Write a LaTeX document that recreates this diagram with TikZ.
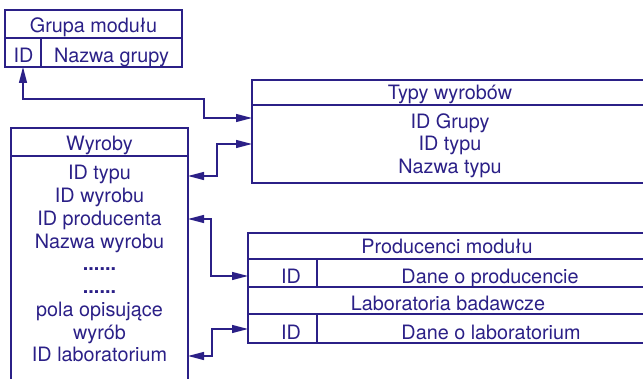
\documentclass[tikz,border=0pt]{standalone}
\usepackage{fontspec}
\setmainfont{TeX Gyre Heros}
\usetikzlibrary{arrows.meta}
\definecolor{ink}{RGB}{43,32,135}
\newcommand{\lbfont}{\fontsize{19.8}{23}\selectfont}
\tikzset{
  boxnode/.style={draw=ink, line width=2pt, inner sep=0pt, outer sep=0pt, anchor=north west, fill=none},
  boxline/.style={draw=ink, line width=2pt},
  lbl/.style={text=ink, font=\lbfont, inner sep=0pt, anchor=base},
  tip/.tip={Triangle[length=16pt,width=8pt]},
  link/.style={draw=ink, line width=1.3pt, tip-tip},
}
\begin{document}
\begin{tikzpicture}[x=1pt,y=-1pt]
\useasboundingbox (0,0) rectangle (643,379);
\clip (0,0) rectangle (643,379);
% Grupa modulu
\node[boxnode, minimum width=177pt, minimum height=57pt] (grupa) at (5,10) {};
\draw[boxline] (grupa.west |- 0,38) -- (grupa.east |- 0,38);
\node[boxnode, minimum width=36pt, minimum height=29pt] (gid) at (5,38) {};
\node[lbl] (gt) at (93.5,32.5) {Grupa modułu};
\node[lbl] (gidt) at (23.5,62.5) {ID};
\node[lbl] (gnt) at (111.5,62.5) {Nazwa grupy};
% Typy wyrobow
\node[boxnode, minimum width=420pt, minimum height=103pt] (typy) at (252,80) {};
\draw[boxline] (typy.west |- 0,105) -- (typy.east |- 0,105);
\node[lbl] (tt) at (450,99.5) {Typy wyrobów};
\node[lbl] (t1) at (450,128.5) {ID Grupy};
\node[lbl] (t2) at (450,151) {ID typu};
\node[lbl] (t3) at (450,173.5) {Nazwa typu};
% Wyroby
\node[boxnode, minimum width=177pt, minimum height=280pt] (wyr) at (11,128) {};
\draw[boxline] (wyr.west |- 0,156) -- (wyr.east |- 0,156);
\node[lbl] (wt) at (99.5,150.5) {Wyroby};
\node[lbl] (w1) at (99.5,180) {ID typu};
\node[lbl] (w2) at (99.5,202.75) {ID wyrobu};
\node[lbl] (w3) at (99.5,225.5) {ID producenta};
\node[lbl] (w4) at (99.5,248.25) {Nazwa wyrobu};
\node[lbl] (w5) at (99.5,271) {\textbf{......}};
\node[lbl] (w6) at (99.5,293.75) {\textbf{......}};
\node[lbl] (w7) at (99.5,316.5) {pola opisujące};
\node[lbl] (w8) at (99.5,339.25) {wyrób};
\node[lbl] (w9) at (99.5,362) {ID laboratorium};
% Producenci / Laboratoria
\node[boxnode, minimum width=424pt, minimum height=110pt] (prod) at (248,233) {};
\draw[boxline] (prod.west |- 0,259) -- (prod.east |- 0,259);
\draw[boxline] (prod.west |- 0,287) -- (prod.east |- 0,287);
\draw[boxline] (prod.west |- 0,314) -- (prod.east |- 0,314);
\node[boxnode, minimum width=69pt, minimum height=28pt] (pid) at (248,259) {};
\node[boxnode, minimum width=69pt, minimum height=29pt] (lid) at (248,314) {};
\node[lbl] (pt) at (447,254) {Producenci modułu};
\node[lbl] (pidt) at (291,283.5) {ID};
\node[lbl] (pdt) at (490,283.5) {Dane o producencie};
\node[lbl] (lt) at (448,311) {Laboratoria badawcze};
\node[lbl] (lidt) at (291,340) {ID};
\node[lbl] (ldt) at (491,340) {Dane o laboratorium};
% connector points
\coordinate (j1) at (204,99);
\coordinate (typyG) at (typy.west |- 0,118);
\coordinate (typyT) at (typy.west |- 0,144);
\coordinate (wT) at (wyr.east |- 0,176);
\coordinate (j2) at (217,144);
\coordinate (wP) at (wyr.east |- 0,219);
\coordinate (j3) at (211,276);
\coordinate (prodID) at (prod.west |- 0,276);
\coordinate (wL) at (wyr.east |- 0,356);
\coordinate (j4) at (212,329);
\coordinate (labID) at (prod.west |- 0,329);
% connectors
\draw[link] (gid.south) |- (j1) |- (typyG);
\draw[link] (wT) -| (j2) -- (typyT);
\draw[link] (wP) -| (j3) -- (prodID);
\draw[link] (wL) -| (j4) -- (labID);
\end{tikzpicture}
\end{document}
